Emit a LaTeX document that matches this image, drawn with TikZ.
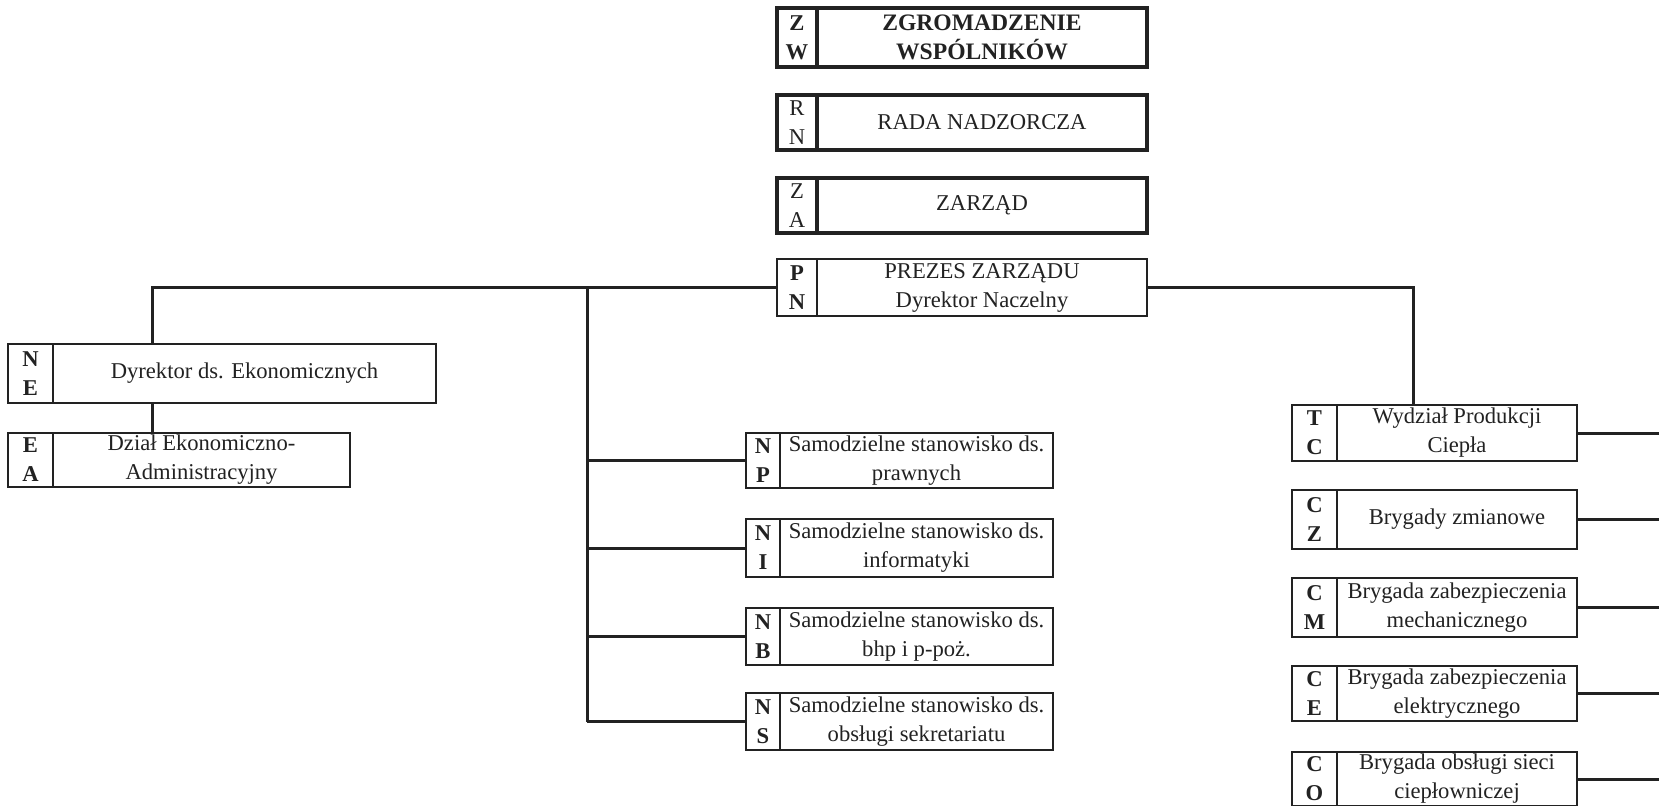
\documentclass[tikz,border=0pt]{standalone}
\usepackage{fontspec}
\setmainfont{Liberation Serif}
\usetikzlibrary{fit,calc}
\definecolor{ink}{HTML}{222222}
\tikzset{
  boxline/.style={draw=ink, line width=1pt},
  topline/.style={draw=ink, line width=1.6pt},
  conn/.style={draw=ink, line width=1.5pt},
  lbl/.style={text=ink, align=center, inner sep=0pt, font=\fontsize{11.3}{14.5}\selectfont},
  ltr/.style={lbl, font=\fontsize{11.3}{14.5}\selectfont\bfseries},
}
% #1 name, #2 x1, #3 y1, #4 x divider, #5 x2, #6 y2, #7 line style, #8 letters, #9 text
\newcommand\orgbox[9]{%
  \coordinate (#1-nw) at (#2,#3);
  \coordinate (#1-se) at (#5,#6);
  \node[#7, fit=(#1-nw)(#1-se), inner sep=0pt, outer sep=0pt] (#1) {};
  \draw[#7] (#4,#3) -- (#4,#6);
  \node[ltr] (#1-l) at ($(#2,#3)!0.5!(#4,#6)$) {#8};
  \node[lbl] (#1-t) at ($(#4,#3)!0.5!(#5,#6)$) {#9};
}
\begin{document}
\begin{tikzpicture}[x=0.5pt, y=-0.5pt]
\useasboundingbox (0,0) rectangle (1659,805);
\fill[white] (0,0) rectangle (1659,805);
\clip (0,0) rectangle (1659,805);

% top column
\orgbox{zw}{777}{8}{817}{1147}{67}{topline}{Z\\W}{\fontsize{11.8}{14.5}\selectfont\bfseries ZGROMADZENIE\\\fontsize{11.8}{14.5}\selectfont\bfseries WSPÓLNIKÓW}
\orgbox{rn}{777}{95}{817}{1147}{150}{topline}{\mdseries R\\\mdseries N}{RADA NADZORCZA}
\orgbox{za}{777}{178}{817}{1147}{233}{topline}{\mdseries Z\\\mdseries A}{ZARZĄD}
\orgbox{pn}{777}{259}{817}{1147}{316}{boxline}{P\\N}{PREZES ZARZĄDU\\Dyrektor Naczelny}

% left branch
\orgbox{ne}{8}{344}{53}{436}{403}{boxline}{N\\E}{Dyrektor ds. Ekonomicznych}
\orgbox{ea}{8}{433}{53}{350}{487}{boxline}{E\\A}{Dział Ekonomiczno-\\Administracyjny}

% middle branch
\orgbox{np}{746}{433}{780}{1053}{488}{boxline}{N\\P}{Samodzielne stanowisko ds.\\prawnych}
\orgbox{ni}{746}{519}{780}{1053}{577}{boxline}{N\\I}{Samodzielne stanowisko ds.\\informatyki}
\orgbox{nb}{746}{608}{780}{1053}{665}{boxline}{N\\B}{Samodzielne stanowisko ds.\\bhp i p-poż.}
\orgbox{ns}{746}{693}{780}{1053}{750}{boxline}{N\\S}{Samodzielne stanowisko ds.\\obsługi sekretariatu}

% right branch
\orgbox{tc}{1292}{405}{1337}{1577}{461}{boxline}{T\\C}{Wydział Produkcji\\Ciepła}
\orgbox{cz}{1292}{490}{1337}{1577}{549}{boxline}{C\\Z}{Brygady zmianowe}
\orgbox{cm}{1292}{578}{1337}{1577}{637}{boxline}{C\\M}{Brygada zabezpieczenia\\mechanicznego}
\orgbox{ce}{1292}{666}{1337}{1577}{721}{boxline}{C\\E}{Brygada zabezpieczenia\\elektrycznego}
\orgbox{co}{1292}{752}{1337}{1577}{806}{boxline}{C\\O}{Brygada obsługi sieci\\ciepłowniczej}

% junction columns
\coordinate (jl) at (152,0);
\coordinate (jm) at (587,0);
\coordinate (jr) at (1413,0);
\coordinate (re) at (1659,0);

% connectors
\draw[conn] (pn.west) -| (jl |- ne.north);
\draw[conn] (jl |- ne.south) -- (jl |- ea.north);
\draw[conn] (pn.west -| jm) -- (jm |- ns.west);
\foreach \n in {np,ni,nb,ns}{\draw[conn] (jm |- \n.west) -- (\n.west);}
\draw[conn] (pn.east) -| (jr |- tc.north);
\foreach \n in {tc,cz,cm,ce,co}{\draw[conn] (\n.east) -- (\n.east -| re);}
\end{tikzpicture}
\end{document}
